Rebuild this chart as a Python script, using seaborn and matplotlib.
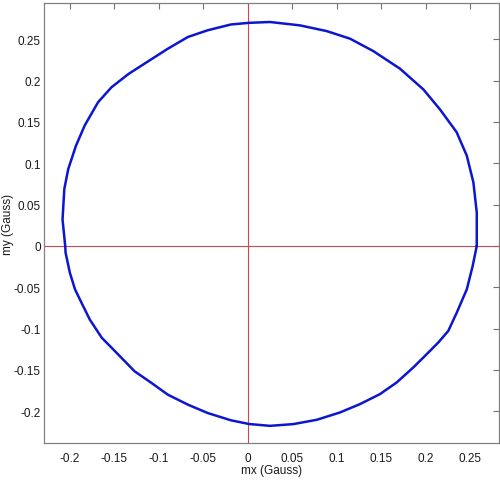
import numpy as np
import seaborn as sns
import matplotlib
matplotlib.use('Agg')
import matplotlib.pyplot as plt

# magnetometer samples (Gauss), counter-clockwise from +x
mx = [0.2576, 0.2576, 0.2538, 0.2464, 0.235, 0.2162, 0.1975, 0.1713, 0.1413, 0.1152,
      0.0889, 0.0589, 0.0252, 0.0018, -0.0187, -0.0448, -0.067, -0.0896, -0.116, -0.134,
      -0.153, -0.168, -0.183, -0.193, -0.2016, -0.206, -0.208, -0.205, -0.2046,
      -0.1998, -0.194, -0.1867, -0.1774, -0.164, -0.149, -0.127, -0.108, -0.0896,
      -0.0672, -0.0448, -0.0187, 0.0018, 0.0252, 0.0514, 0.0777, 0.1039, 0.1263,
      0.1488, 0.1676, 0.1863, 0.2013, 0.2144, 0.2256, 0.235, 0.2464, 0.253, 0.2576]
my = [0.0, 0.0405, 0.077, 0.1092, 0.1376, 0.1653, 0.1895, 0.2145, 0.2358, 0.2508,
      0.260, 0.2669, 0.271, 0.270, 0.268, 0.261, 0.2529, 0.2387, 0.2205, 0.208,
      0.192, 0.174, 0.146, 0.121, 0.093, 0.069, 0.032, 0.0, -0.008,
      -0.0323, -0.0525, -0.0687, -0.089, -0.111, -0.1274, -0.1517, -0.1658, -0.18,
      -0.192, -0.2022, -0.211, -0.2155, -0.2177, -0.2156, -0.2104, -0.2015, -0.1914,
      -0.1793, -0.1652, -0.147, -0.131, -0.1168, -0.1028, -0.081, -0.0525, -0.0243, 0.0]

xticks = [-0.2, -0.15, -0.1, -0.05, 0, 0.05, 0.1, 0.15, 0.2, 0.25]
yticks = [-0.2, -0.15, -0.1, -0.05, 0, 0.05, 0.1, 0.15, 0.2, 0.25]
tick_labels = ['-0.2', '-0.15', '-0.1', '-0.05', '0', '0.05', '0.1', '0.15', '0.2', '0.25']

sns.set_style('white')
plt.rcParams['font.family'] = ['Liberation Sans', 'DejaVu Sans']

fig = plt.figure(figsize=(5, 4.81), dpi=100)
ax = fig.add_axes([0.0886, 0.076, 0.9094, 0.9157])

ax.axhline(0, color='#c94a4a', lw=0.8, zorder=1)
ax.axvline(0, color='#c94a4a', lw=0.8, zorder=1)

sns.lineplot(x=mx, y=my, sort=False, estimator=None, color='#0c16cf', lw=1.8,
             solid_joinstyle='round', ax=ax, zorder=2)

ax.set_xlim(-0.2285, 0.2826)
ax.set_ylim(-0.239, 0.294)
ax.set_xticks(xticks)
ax.set_xticklabels(tick_labels)
ax.set_yticks(yticks)
ax.set_yticklabels(tick_labels)
ax.tick_params(direction='in', length=4, width=0.8, color='#707070', labelsize=8.5,
               labelcolor='#1a1a1a', top=True, right=True)
ax.tick_params(axis='x', pad=6)
ax.tick_params(axis='y', pad=2.5)
for s in ax.spines.values():
    s.set_visible(True)
    s.set_color('#808080')
    s.set_linewidth(0.9)

ax.set_xlabel('mx (Gauss)', fontsize=8.5, color='#1a1a1a', labelpad=0)
ax.set_ylabel('my (Gauss)', fontsize=8.5, color='#1a1a1a')
ax.yaxis.set_label_coords(-0.066, 0.5)

fig.savefig('out.png', dpi=100)
